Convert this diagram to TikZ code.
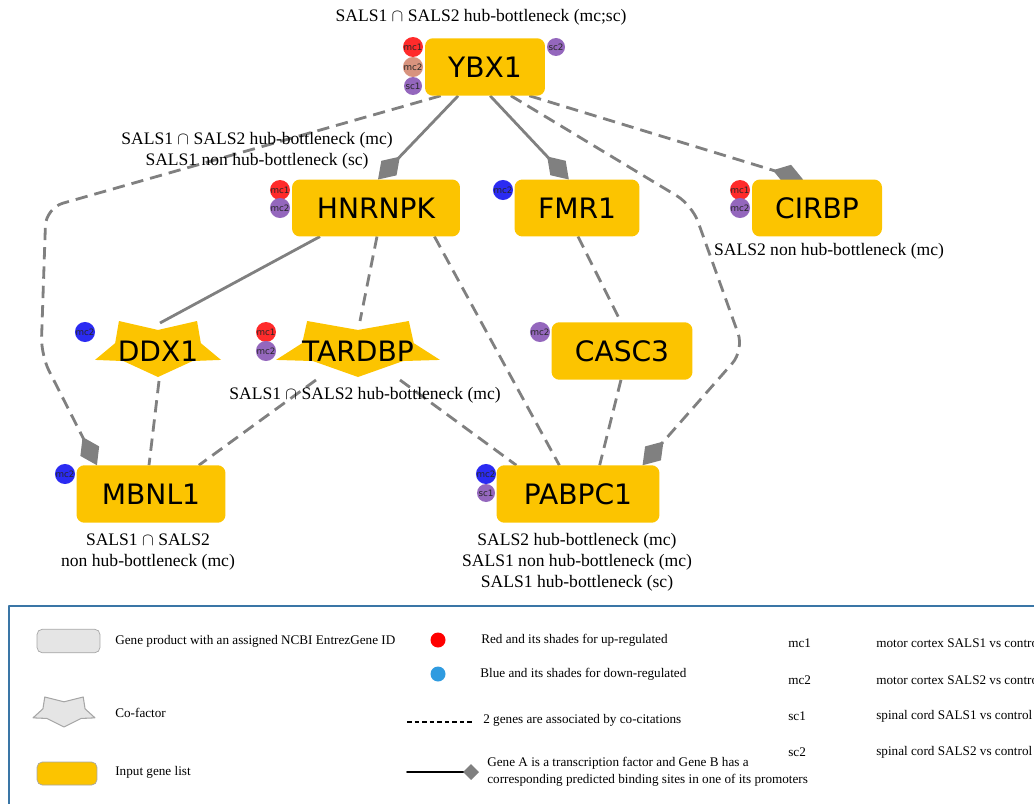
\documentclass[tikz,border=0pt]{standalone}
\usepackage{fontspec}
\setmainfont{Liberation Serif}
\newfontfamily\genefont{DejaVu Sans}
\usetikzlibrary{arrows.meta,backgrounds}
\definecolor{geneor}{HTML}{FCC400}
\definecolor{upred}{HTML}{FF2B2B}
\definecolor{upsalmon}{HTML}{D8937E}
\definecolor{purp}{HTML}{9467BD}
\definecolor{dnblue}{HTML}{2B2BF2}
\definecolor{legblue}{HTML}{3A76A6}
\definecolor{leglight}{HTML}{2F9BE0}
% star of a co-factor: centre x, centre y, half width, half height, style
\newcommand{\cofactor}[5]{\path[#5] (#1-0.62*#3,#2-#4) -- (#1,#2-0.68*#4) -- (#1+0.62*#3,#2-#4)
  -- (#1+0.68*#3,#2-0.21*#4) -- (#1+#3,#2+0.39*#4) -- (#1+0.55*#3,#2+0.43*#4) -- (#1,#2+#4)
  -- (#1-0.55*#3,#2+0.43*#4) -- (#1-#3,#2+0.39*#4) -- (#1-0.68*#3,#2-0.21*#4) -- cycle;}
\begin{document}
\begin{tikzpicture}[x=0.02cm, y=-0.02cm, line join=round, line cap=round,
	gene/.style={fill=geneor, rounded corners=4.5pt, minimum height=1.15cm, inner sep=0pt, outer sep=0pt, font=\genefont\fontsize{16}{16}\selectfont},
	genetxt/.style={inner sep=0pt, font=\genefont\fontsize{16}{16}\selectfont},
	badge/.style={circle, minimum size=0.36cm, inner sep=0pt, font=\genefont\fontsize{5}{5}\selectfont, text=black!85},
	note/.style={font=\fontsize{10}{12}\selectfont, align=center, inner sep=0pt},
	link/.style={draw=gray, line width=1.6pt},
	cocit/.style={link, line cap=butt, dash pattern=on 7pt off 4pt},
	tf/.style={-{Diamond[length=18pt,width=12pt,color=gray]}},
	legtxt/.style={font=\fontsize{7.5}{9.6}\selectfont, anchor=west, inner sep=0pt, align=left}]
	\useasboundingbox (0,0) rectangle (1034,804);
	\clip (0,0) rectangle (1034,804);
	% genes
	\node[gene, minimum width=2.4cm] (ybx) at (485,67) {YBX1};
	\node[gene, minimum width=3.36cm, minimum height=1.14cm] (hnrnpk) at (376,208) {HNRNPK};
	\node[gene, minimum width=2.5cm, minimum height=1.14cm] (fmr) at (577,208) {FMR1};
	\node[gene, minimum width=2.6cm, minimum height=1.14cm] (cirbp) at (817,208) {CIRBP};
	\node[gene, minimum width=2.82cm] (casc) at (622,351) {CASC3};
	\node[gene, minimum width=2.98cm] (mbnl) at (151,494) {MBNL1};
	\node[gene, minimum width=3.26cm] (pabpc) at (578,494) {PABPC1};
	\cofactor{158}{349}{63}{28}{fill=geneor}
	\node[genetxt] (ddx) at (158,351) {DDX1};
	\cofactor{358}{349}{82}{28}{fill=geneor}
	\node[genetxt] (tardbp) at (358,351) {TARDBP};
	\coordinate (ddx-n) at (160,323);
	\coordinate (ddx-s) at (159,381);
	\coordinate (tardbp-n) at (360,321);
	\coordinate (tardbp-sw) at (316,380);
	\coordinate (tardbp-se) at (400,380);
	% interactions
	\begin{scope}[on background layer]
		\draw[link,tf] (ybx.227) -- (hnrnpk.86);
		\draw[link,tf] (ybx.280) -- (fmr.106);
		\draw[cocit,tf] (ybx.327) -- (cirbp.116);
		\draw[cocit,tf,rounded corners=10pt] (ybx.213) -- (46,208) -- (41,355) -- (mbnl.152);
		\draw[cocit,tf,rounded corners=10pt] (ybx.312) -- (692,205) -- (744,350) -- (pabpc.24);
		\draw[link] (hnrnpk.207) -- (ddx-n);
		\draw[cocit] (hnrnpk.272) -- (tardbp-n);
		\draw[cocit] (hnrnpk.334) -- (pabpc.123);
		\draw[cocit] (fmr.272) -- (casc.92);
		\draw[cocit] (ddx-s) -- (mbnl.94);
		\draw[cocit] (tardbp-sw) -- (mbnl.31);
		\draw[cocit] (tardbp-se) -- (pabpc.155);
		\draw[cocit] (casc.268) -- (pabpc.53);
	\end{scope}
	% expression badges
	\node[badge, fill=upred] (ybx-mc1) at (413,47) {mc1};
	\node[badge, fill=upsalmon] (ybx-mc2) at (413,67) {mc2};
	\node[badge, fill=purp] (ybx-sc1) at (413,86) {sc1};
	\node[badge, fill=purp] (ybx-sc2) at (556,47) {sc2};
	\node[badge, fill=upred] (hnrnpk-mc1) at (280,190) {mc1};
	\node[badge, fill=purp] (hnrnpk-mc2) at (280,208) {mc2};
	\node[badge, fill=dnblue] (fmr-mc2) at (503,190) {mc2};
	\node[badge, fill=upred] (cirbp-mc1) at (740,190) {mc1};
	\node[badge, fill=purp] (cirbp-mc2) at (740,208) {mc2};
	\node[badge, fill=dnblue] (ddx-mc2) at (85,332) {mc2};
	\node[badge, fill=upred] (tardbp-mc1) at (266,332) {mc1};
	\node[badge, fill=purp] (tardbp-mc2) at (266,351) {mc2};
	\node[badge, fill=purp] (casc-mc2) at (540,332) {mc2};
	\node[badge, fill=dnblue] (mbnl-mc2) at (65,474) {mc2};
	\node[badge, fill=dnblue] (pabpc-mc2) at (486,474) {mc2};
	\node[badge, fill=purp] (pabpc-sc1) at (486,493) {sc1};
	% topology notes
	\node[note] (ybx-note) at (481,17) {SALS1 $\cap$ SALS2 hub-bottleneck (mc;sc)};
	\node[note] (hnrnpk-note) at (257,151) {SALS1 $\cap$ SALS2 hub-bottleneck (mc)\\SALS1 non hub-bottleneck (sc)};
	\node[note] (cirbp-note) at (829,251) {SALS2 non hub-bottleneck (mc)};
	\node[note] (tardbp-note) at (365,395) {SALS1 $\cap$ SALS2 hub-bottleneck (mc)};
	\node[note] (mbnl-note) at (148,552) {SALS1 $\cap$ SALS2\\non hub-bottleneck (mc)};
	\node[note] (pabpc-note) at (577,562) {SALS2 hub-bottleneck (mc)\\SALS1 non hub-bottleneck (mc)\\SALS1 hub-bottleneck (sc)};
	% legend
	\draw[legblue, line width=1.2pt] (9,606) rectangle (1060,830);
	\node[draw=gray!70, fill=gray!20, rounded corners=3pt, minimum width=1.26cm, minimum height=0.47cm] (leg-gp) at (68.5,641) {};
	\node[legtxt] (leg-gp-t) at (115,641) {Gene product with an assigned NCBI EntrezGene ID};
	\cofactor{64}{712}{31}{15}{fill=gray!20, draw=gray!70, line width=0.6pt}
	\node[legtxt] (leg-cf-t) at (115,713) {Co-factor};
	\node[draw=gray!70, fill=geneor, rounded corners=3pt, minimum width=1.2cm, minimum height=0.46cm] (leg-in) at (67,773.5) {};
	\node[legtxt] (leg-in-t) at (115,772) {Input gene list};
	\node[circle, fill=red, minimum size=0.3cm, inner sep=0pt] (leg-up) at (438,640) {};
	\node[legtxt] (leg-up-t) at (481,640) {Red and its shades for up-regulated};
	\node[circle, fill=leglight, minimum size=0.3cm, inner sep=0pt] (leg-dn) at (438,674) {};
	\node[legtxt] (leg-dn-t) at (480,674) {Blue and its shades for down-regulated};
	\coordinate (leg-cc-a) at (407,722);
	\coordinate (leg-cc-b) at (473,722);
	\draw[line width=0.9pt, line cap=butt, dash pattern=on 2.6pt off 1.7pt] (leg-cc-a) -- (leg-cc-b);
	\node[legtxt] (leg-cc-t) at (483,720) {2 genes are associated by co-citations};
	\coordinate (leg-tf-a) at (407,772);
	\coordinate (leg-tf-b) at (479,772);
	\draw[line width=0.9pt, -{Diamond[length=9pt,width=9pt,color=gray]}] (leg-tf-a) -- (leg-tf-b);
	\node[legtxt] (leg-tf-t) at (487,772) {Gene A is a transcription factor and Gene B has a\\corresponding predicted binding sites in one of its promoters};
	\node[legtxt] (leg-mc1) at (788,643) {mc1};
	\node[legtxt] (leg-mc1-t) at (876,643) {motor cortex SALS1 vs control};
	\node[legtxt] (leg-mc2) at (788,680) {mc2};
	\node[legtxt] (leg-mc2-t) at (876,680) {motor cortex SALS2 vs control};
	\node[legtxt] (leg-sc1) at (788,716) {sc1};
	\node[legtxt] (leg-sc1-t) at (876,716) {spinal cord SALS1 vs control};
	\node[legtxt] (leg-sc2) at (788,752) {sc2};
	\node[legtxt] (leg-sc2-t) at (876,752) {spinal cord SALS2 vs control};
\end{tikzpicture}
\end{document}
